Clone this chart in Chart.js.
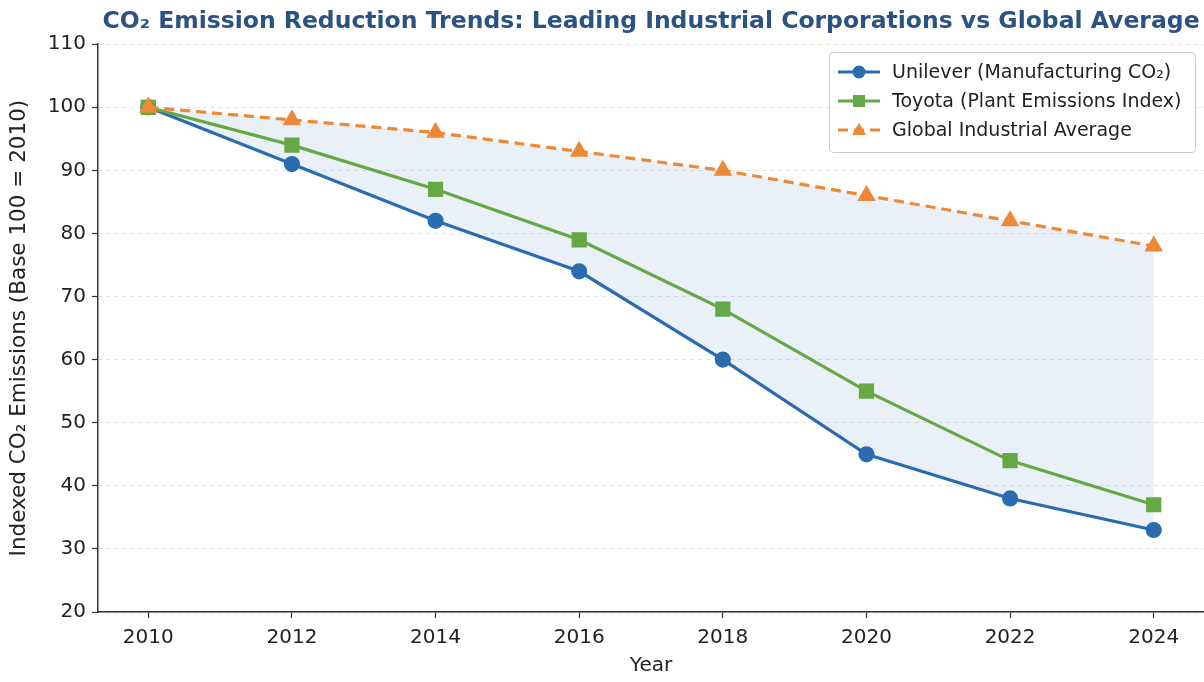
<!DOCTYPE html>
<html>
<head>
<meta charset="utf-8">
<script src="https://cdn.jsdelivr.net/npm/chart.js@4.4.1/dist/chart.umd.min.js"></script>
<style>
  html, body { margin: 0; padding: 0; background: #ffffff; }
  #wrap { width: 1204px; height: 682px; }
</style>
</head>
<body>
<div id="wrap"><canvas id="c" width="1204" height="682"></canvas></div>
<script>
const years = [2010, 2012, 2014, 2016, 2018, 2020, 2022, 2024];
const unilever = [100, 91, 82, 74, 60, 45, 38, 33];
const toyota = [100, 94, 87, 79, 68, 55, 44, 37];
const globalAvg = [100, 98, 96, 93, 90, 86, 82, 78];
const yTickValues = [20, 30, 40, 50, 60, 70, 80, 90, 100, 110];
const seriesNames = ['Unilever (Manufacturing CO\u2082)', 'Toyota (Plant Emissions Index)', 'Global Industrial Average'];
const titleText = 'CO\u2082 Emission Reduction Trends: Leading Industrial Corporations vs Global Average';
const yTitle = 'Indexed CO\u2082 Emissions (Base 100 = 2010)';
const xTitle = 'Year';

const FONT = "'DejaVu Sans', sans-serif";
const BLUE = '#2b6cb0';
const GREEN = '#66a844';
const ORANGE = '#ed8936';

function pts(vals) { return years.map((y, i) => ({ x: y, y: vals[i] })); }

const legendPlugin = {
  id: 'customLegend',
  afterDraw(chart) {
    const ctx = chart.ctx;
    const x0 = 829, y0 = 52, w = 366, h = 100;
    ctx.save();
    ctx.fillStyle = 'rgba(255,255,255,0.9)';
    ctx.strokeStyle = '#cccccc';
    ctx.lineWidth = 1;
    ctx.beginPath();
    if (ctx.roundRect) ctx.roundRect(x0 + 0.5, y0 + 0.5, w, h, 4); else ctx.rect(x0 + 0.5, y0 + 0.5, w, h);
    ctx.fill(); ctx.stroke();
    chart.data.datasets.forEach((ds, i) => {
      const cy = y0 + 20 + i * 29;
      ctx.strokeStyle = ds.borderColor;
      ctx.lineWidth = 3;
      ctx.setLineDash(ds.borderDash || []);
      ctx.beginPath(); ctx.moveTo(838, cy); ctx.lineTo(880, cy); ctx.stroke();
      ctx.setLineDash([]);
      ctx.fillStyle = ds.pointBackgroundColor;
      const mx = 859;
      ctx.beginPath();
      if (ds.pointStyle === 'circle') { ctx.arc(mx, cy, 6.5, 0, Math.PI * 2); }
      else if (ds.pointStyle === 'rect') { ctx.rect(mx - 6, cy - 6, 12, 12); }
      else { ctx.moveTo(mx, cy - 7.5); ctx.lineTo(mx + 7, cy + 5); ctx.lineTo(mx - 7, cy + 5); ctx.closePath(); }
      ctx.fill();
      ctx.fillStyle = '#222222';
      ctx.font = '19px ' + FONT;
      ctx.textBaseline = 'middle';
      ctx.textAlign = 'left';
      ctx.fillText(ds.label, 892, cy + 1);
    });
    ctx.restore();
  }
};

new Chart(document.getElementById('c'), {
  type: 'line',
  data: {
    datasets: [
      {
        label: seriesNames[0], data: pts(unilever),
        borderColor: BLUE, backgroundColor: 'rgba(66,120,190,0.11)',
        pointBackgroundColor: BLUE, pointBorderColor: BLUE,
        pointStyle: 'circle', pointRadius: 6.5, borderWidth: 3.2,
        fill: 2, order: 3, tension: 0
      },
      {
        label: seriesNames[1], data: pts(toyota),
        borderColor: GREEN, backgroundColor: GREEN,
        pointBackgroundColor: GREEN, pointBorderColor: GREEN,
        pointStyle: 'rect', pointRadius: 8.5, borderWidth: 3.2,
        fill: false, order: 2, tension: 0
      },
      {
        label: seriesNames[2], data: pts(globalAvg),
        borderColor: ORANGE, backgroundColor: ORANGE,
        pointBackgroundColor: ORANGE, pointBorderColor: ORANGE,
        pointStyle: 'triangle', pointRadius: 7.5, borderWidth: 3.2,
        borderDash: [10, 6],
        fill: false, order: 1, tension: 0
      }
    ]
  },
  options: {
    responsive: false,
    animation: false,
    devicePixelRatio: 1,
    layout: { autoPadding: false, padding: { left: 0, right: 0, top: 0, bottom: 0 } },
    plugins: {
      legend: { display: false },
      tooltip: { enabled: false },
      title: {
        display: true, text: titleText, color: '#2c5282', fullSize: false,
        font: { family: FONT, size: 23.5, weight: 'bold', lineHeight: 1.2 },
        padding: { top: 8, bottom: 8 }
      },
      filler: { propagate: false }
    },
    scales: {
      x: {
        type: 'linear', min: 2009.3, max: 2024.7,
        afterBuildTicks: (s) => { s.ticks = years.map(v => ({ value: v })); },
        afterFit: (s) => { s.height = 70; },
        ticks: { color: '#222', font: { family: FONT, size: 20 }, padding: 8, callback: v => String(v), maxRotation: 0, autoSkip: false },
        grid: { display: true, drawOnChartArea: false, drawTicks: true, tickLength: 6, tickColor: '#333', tickWidth: 1.2 },
        border: { display: true, color: '#333', width: 1.5 },
        title: { display: true, text: xTitle, color: '#222', font: { family: FONT, size: 20 }, padding: { top: 4, bottom: 4 } }
      },
      y: {
        min: 20, max: 110,
        afterBuildTicks: (s) => { s.ticks = yTickValues.map(v => ({ value: v })); },
        afterFit: (s) => { s.width = 98; },
        ticks: { color: '#222', font: { family: FONT, size: 20 }, padding: 6 },
        grid: { display: true, drawOnChartArea: true, color: 'rgba(0,0,0,0.12)', lineWidth: 1, drawTicks: true, tickLength: 6, tickColor: '#333', tickWidth: 1.2 },
        border: { display: true, color: '#333', width: 1.5, dash: [4, 4] },
        title: { display: true, text: yTitle, color: '#222', font: { family: FONT, size: 21.5 }, padding: { top: 7, bottom: 4 } }
      }
    }
  },
  plugins: [legendPlugin]
});
</script>
</body>
</html>
